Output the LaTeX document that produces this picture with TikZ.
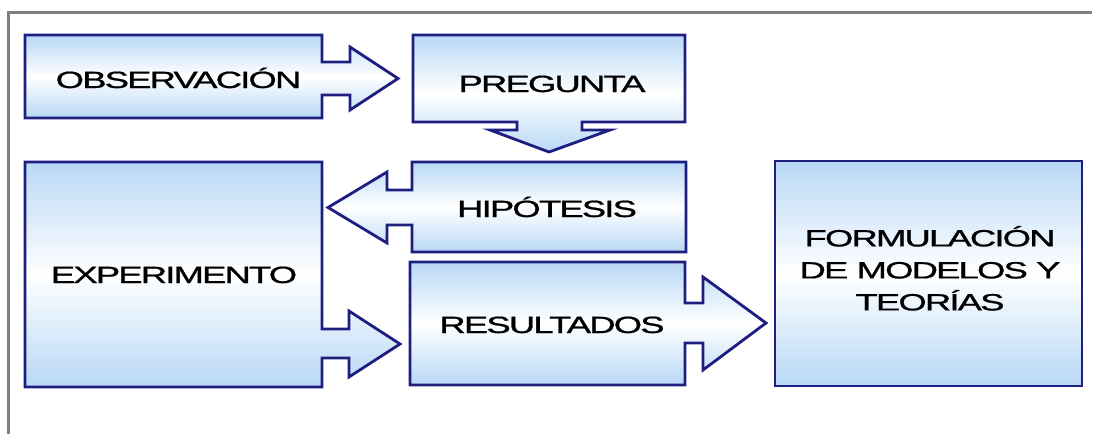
\documentclass[tikz,border=0pt]{standalone}
\usepackage{fontspec}
\setmainfont{Liberation Sans}
\newfontfamily\lblfont[FakeBold=0.8, LetterSpace=-5]{Liberation Sans}
\usepackage{graphicx}
\pgfdeclarelayer{background}
\pgfsetlayers{background,main}
\definecolor{edge}{RGB}{30,30,128}
\definecolor{lblue}{RGB}{184,216,246}
\definecolor{framegray}{RGB}{128,128,128}
\tikzset{
  boxnode/.style={rectangle, inner sep=0pt, outer sep=0pt},
  blockshape/.style={draw=edge, line width=2.8pt, line join=miter,
    top color=lblue, bottom color=lblue, middle color=white},
  lbl/.style={inner sep=0pt, anchor=base, text=black,
    font=\lblfont\fontsize{23.5}{32}\selectfont},
}
\newcommand{\widetext}[1]{\scalebox{1.55}[1]{#1}}
\begin{document}
\begin{tikzpicture}[x=1pt,y=-1pt]
\useasboundingbox (0,0) rectangle (1094,434);
% box nodes
\node[boxnode, minimum width=297pt, minimum height=83pt]  (obs)  at (173.5,76.5) {};
\node[boxnode, minimum width=272pt, minimum height=87pt]  (preg) at (549,78.5) {};
\node[boxnode, minimum width=274pt, minimum height=90pt]  (hip)  at (549,207) {};
\node[boxnode, minimum width=297pt, minimum height=225pt] (exp)  at (173.5,274.5) {};
\node[boxnode, minimum width=275pt, minimum height=123pt] (res)  at (547.5,323.5) {};
\node[boxnode, minimum width=307pt, minimum height=225pt] (form) at (928.5,273.5) {};
% labels
\node[lbl] (obsT)  at (178.5,88)  {\widetext{OBSERVACIÓN}};
\node[lbl] (pregT) at (552,92)    {\widetext{PREGUNTA}};
\node[lbl] (hipT)  at (547,217)   {\widetext{HIPÓTESIS}};
\node[lbl] (expT)  at (174,283)   {\widetext{EXPERIMENTO}};
\node[lbl] (resT)  at (552,333)   {\widetext{RESULTADOS}};
\node[lbl, anchor=center] (formT) at (930,272)
  {\widetext{\begin{tabular}{@{}c@{}}FORMULACIÓN\\DE MODELOS Y\\TEORÍAS\end{tabular}}};
% shapes with block arrows
\begin{pgfonlayer}{background}
\path[blockshape] (obs.north west) -- (obs.north east) -- (obs.east |- 0,62)
  -- (350,62) -- (350,47) -- (398,78.5) -- (350,110) -- (350,95)
  -- (obs.east |- 0,95) -- (obs.south east) -- (obs.south west) -- cycle;
\path[blockshape] (preg.north west) -- (preg.north east) -- (preg.south east)
  -- (582,122) -- (582,130) -- (610,130) -- (549,152) -- (490,130)
  -- (517,130) -- (517,122) -- (preg.south west) -- cycle;
\path[blockshape] (hip.north west) -- (hip.north east) -- (hip.south east)
  -- (hip.south west) -- (hip.west |- 0,225) -- (387,225) -- (387,243)
  -- (328,207.5) -- (387,172) -- (387,190) -- (hip.west |- 0,190) -- cycle;
\path[blockshape] (exp.north west) -- (exp.north east) -- (exp.east |- 0,329)
  -- (349,329) -- (349,311) -- (400,344) -- (349,377) -- (349,358)
  -- (exp.east |- 0,358) -- (exp.south east) -- (exp.south west) -- cycle;
\path[blockshape] (res.north west) -- (res.north east) -- (res.east |- 0,303)
  -- (703,303) -- (703,277) -- (766,323) -- (703,370) -- (703,343)
  -- (res.east |- 0,343) -- (res.south east) -- (res.south west) -- cycle;
\path[blockshape] (form.north west) rectangle (form.south east);
\end{pgfonlayer}
% frame
\draw[framegray, line width=3pt] (1092,12) -- (8,12) -- (8,434);
\end{tikzpicture}
\end{document}
